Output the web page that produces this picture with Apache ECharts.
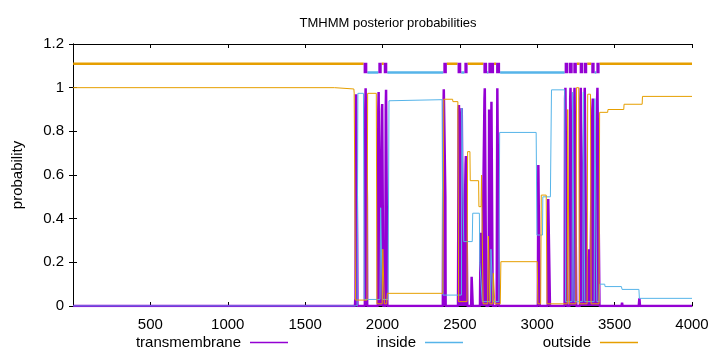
<!DOCTYPE html>
<html><head><meta charset="utf-8">
<script src="https://cdn.jsdelivr.net/npm/echarts@6/dist/echarts.min.js"></script>
<style>html,body{margin:0;padding:0;background:#fff}#c{width:720px;height:352px}</style>
</head><body><div id="c"></div>
<script>
// ---------- data (sequence position / posterior probability) ----------
const xTickLabels = [500, 1000, 1500, 2000, 2500, 3000, 3500, 4000];
const yTickLabels = [0, 0.2, 0.4, 0.6, 0.8, 1, 1.2];

const tmPos = [1,1822,1824,1826,1827,1829,1832,1836,1838,
  1886,1889,1891,1896,1899,1901,
  1970,1973,1975,1979,1982,
  1993,1996,1998,2001,2005,
  2018,2021,2023,2027,2031,
  2390,2394,2396,2402,2406,2408,
  2488,2492,2494,2499,2503,
  2506,2510,2512,2517,2522,
  2534,2537,2539,2543,2548,
  2573,2576,2580,2583,
  2630,2634,2639,2643,
  2655,2659,2661,2666,2670,
  2686,2689,2693,2696,
  2700,2704,2709,2712,
  2738,2742,2748,2752,
  3004,3007,3012,3016,
  3068,3071,3078,3082,
  3177,3180,3182,3188,3192,
  3210,3213,3215,3223,3228,
  3236,3239,3241,3248,3252,
  3276,3279,3281,3288,3293,
  3302,3305,3307,3313,3318,
  3330,3334,3339,3342,
  3352,3356,3359,3366,3372,
  3384,3387,3389,3397,3402,
  3545,3548,3551,
  3656,3660,3664,
  4000];
const tmProb = [0,0,0.03,0,0.5,0.97,0.97,0.3,0,
  0,0.9,0.997,0.997,0.5,0,
  0,0.9,0.98,0.98,0,
  0,0.9,0.925,0.925,0,
  0,0.9,0.99,0.99,0,
  0,0.9,0.993,0.993,0.5,0,
  0,0.9,0.92,0.92,0,
  0,0.88,0.906,0.906,0,
  0,0.65,0.687,0.687,0,
  0,0.134,0.134,0,
  0,0.336,0.336,0,
  0,0.95,0.997,0.997,0,
  0,0.9,0.9,0,
  0,0.936,0.936,0,
  0,0.997,0.997,0,
  0,0.646,0.646,0,
  0,0.49,0.49,0,
  0,0.95,1,1,0,
  0,0.95,1,1,0,
  0,0.95,1,1,0,
  0,0.95,1,1,0,
  0,0.95,1,1,0,
  0,0.26,0.26,0,
  0,0.9,0.95,0.95,0,
  0,0.95,1,1,0,
  0,0.015,0,
  0,0.035,0,
  0];

const insidePos = [1,1836,1841,1877,1882,1984,1988,1995,1999,2036,2042,2385,2391,2510,2513,2522,2525,
  2580,2583,2626,2629,2640,2645,2698,2701,2710,2714,2752,2757,2993,2998,3034,3036,3085,3092,3177,3183,
  3225,3229,3234,3238,3294,3298,3303,3307,3368,3372,3380,3385,3400,3403,3436,3438,3544,3548,3657,3660,4000];
const insideProb = [0,0,0.974,0.974,0.03,0.03,0.45,0.45,0.03,0.03,0.94,0.945,0.05,0.05,0.906,0.906,0.295,
  0.295,0.425,0.425,0.2,0.2,0.02,0.02,0.26,0.26,0.02,0.02,0.795,0.795,0.325,0.325,0.5,0.5,0.99,0.99,0.02,
  0.02,0.98,0.98,0.02,0.02,0.98,0.98,0.02,0.02,0.95,0.95,0.02,0.02,0.1,0.1,0.089,0.089,0.076,0.076,0.035,0.035];

const outsidePos = [1,1690,1695,1815,1817,1822,1826,1900,1904,1960,1964,1998,2002,2008,2012,2027,2031,2390,2396,
  2453,2455,2487,2492,2546,2550,2565,2567,2621,2623,2637,2640,2645,2650,2680,2684,2690,2694,2712,2716,2722,2726,
  2761,2765,3000,3004,3022,3026,3058,3063,3194,3197,3203,3207,3250,3254,3268,3273,3322,3326,3344,3348,
  3399,3403,3455,3457,3559,3561,3678,3680,4000];
const outsideProb = [1,1,0.994,0.994,0.975,0.975,0.027,0.027,0.974,0.974,0.01,0.01,0.26,0.26,0.01,0.01,0.058,0.058,0.947,
  0.947,0.936,0.936,0.02,0.02,0.707,0.707,0.574,0.574,0.455,0.455,0.6,0.6,0.01,0.01,0.32,0.32,0.01,0.01,0.15,0.15,0.01,
  0.01,0.203,0.203,0.01,0.01,0.508,0.508,0.01,0.01,0.9,0.9,0.01,0.01,1,1,0.01,0.01,0.97,0.97,0.01,
  0.01,0.887,0.887,0.9,0.9,0.924,0.924,0.96,0.96];

// predicted topology (sequence ranges) and the level each is drawn at
const topoOutsideSeg = [[1,1878],[1995,2008],[2416,2485],[2550,2652],[2721,2734],[3201,3205],[3256,3274],[3323,3349],[3403,4000]];
const topoInsideSeg = [[1902,1973],[2031,2393],[2509,2529],[2676,2684],[2760,3177],[3229,3233],[3298,3302],[3371,3382]];
const topoTmSeg = [[1878,1902],[1973,1995],[2008,2031],[2393,2416],[2485,2509],[2529,2550],[2652,2676],[2684,2721],
  [2734,2760],[3177,3201],[3205,3229],[3233,3256],[3274,3298],[3302,3323],[3349,3371],[3382,3403]];
const topoOutsideLevel = 1.11;
const topoInsideLevel = 1.07;
const topoTmLevel = 1.09;

// ---------- build ----------
const zip = (xs, ys) => xs.map((x, i) => [x, ys[i]]);
const segs = (list, lvl) => {
  const out = [];
  list.forEach(([a, b]) => { out.push([a, lvl], [b, lvl], [b, '-']); });
  return out;
};
const FONT = '"Liberation Sans", Arial, sans-serif';
const C_TM = '#9400D3', C_IN = '#56B4E9', C_OUT = '#E69F00';

const chart = echarts.init(document.getElementById('c'), null, {renderer: 'canvas'});
const axisCommon = {
  type: 'value', min: 0, max: 4000, interval: 500,
  axisLine: {show: true, onZero: false, lineStyle: {color: '#000', width: 1}},
  axisTick: {show: true, inside: true, length: 4, lineStyle: {color: '#000'}},
  splitLine: {show: false}
};
const yCommon = {
  type: 'value', min: 0, max: 1.2, interval: 0.2,
  axisLine: {show: true, lineStyle: {color: '#000', width: 1}},
  axisTick: {show: true, inside: true, length: 4, lineStyle: {color: '#000'}},
  splitLine: {show: false}
};
const mkLegend = (name, right, color) => ({
  data: [name], right: right, top: 330, align: 'right', icon: 'rect', itemWidth: 38, itemHeight: 1.5,
  selectedMode: false, itemStyle: {color: color, borderWidth: 0},
  textStyle: {fontFamily: FONT, fontSize: 15, color: '#000', padding: [0, 4, 0, 0]}
});
chart.setOption({
  animation: false,
  backgroundColor: '#fff',
  title: {
    text: 'TMHMM posterior probabilities', left: 383, top: 12, textAlign: 'center',
    textStyle: {fontFamily: FONT, fontSize: 13, fontWeight: 'normal', color: '#000'}
  },
  legend: [
    mkLegend('transmembrane', 427, C_TM),
    mkLegend('inside', 252, C_IN),
    mkLegend('outside', 77, C_OUT)
  ],
  grid: {left: 73, right: 28, top: 44, bottom: 46, containLabel: false},
  xAxis: [
    Object.assign({}, axisCommon, {position: 'bottom',
      axisLabel: {show: true, margin: 11, fontFamily: FONT, fontSize: 15, color: '#000',
        formatter: v => (xTickLabels.indexOf(v) >= 0 ? String(v) : '')}}),
    Object.assign({}, axisCommon, {position: 'top', axisLabel: {show: false}})
  ],
  yAxis: [
    Object.assign({}, yCommon, {position: 'left',
      name: 'probability', nameLocation: 'middle', nameGap: 48, nameRotate: 90,
      nameTextStyle: {fontFamily: FONT, fontSize: 15, color: '#000'},
      axisLabel: {show: true, margin: 9, fontFamily: FONT, fontSize: 15, color: '#000',
        formatter: v => { const m = yTickLabels.find(t => Math.abs(t - v) < 1e-9); return m === undefined ? '' : String(m); }}}),
    Object.assign({}, yCommon, {position: 'right', axisLabel: {show: false}})
  ],
  series: [
    {name: 'transmembrane', type: 'line', data: zip(tmPos, tmProb), symbol: 'none', z: 2,
     color: C_TM, itemStyle: {color: C_TM}, lineStyle: {color: C_TM, width: 2.5}, areaStyle: {color: C_TM, opacity: 1}},
    {name: 'inside', type: 'line', data: zip(insidePos, insideProb), symbol: 'none', z: 3,
     color: C_IN, itemStyle: {color: C_IN}, lineStyle: {color: C_IN, width: 1}},
    {name: 'outside', type: 'line', data: zip(outsidePos, outsideProb), symbol: 'none', z: 4,
     color: C_OUT, itemStyle: {color: C_OUT}, lineStyle: {color: C_OUT, width: 1}},
    {name: 'topoOut', type: 'line', data: segs(topoOutsideSeg, topoOutsideLevel), symbol: 'none', z: 5,
     connectNulls: false, lineStyle: {color: C_OUT, width: 2.5}},
    {name: 'topoIn', type: 'line', data: segs(topoInsideSeg, topoInsideLevel), symbol: 'none', z: 5,
     connectNulls: false, lineStyle: {color: C_IN, width: 2.5}},
    {name: 'topoTm', type: 'line', data: segs(topoTmSeg, topoTmLevel), symbol: 'none', z: 6,
     connectNulls: false, lineStyle: {color: C_TM, width: 10.5, cap: 'butt'}}
  ]
});
</script></body></html>
